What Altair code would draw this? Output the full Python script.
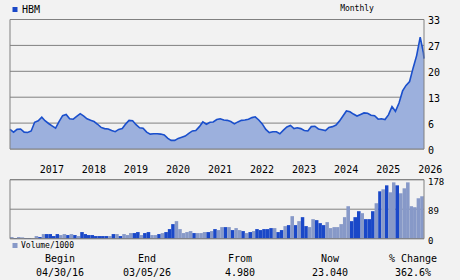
import altair as alt
import pandas as pd

# ---------------- data ----------------
ticker = "HBM"
period_label = "Monthly"
volume_label = "Volume/1000"

price = [4.98, 4.3, 5.0, 5.1, 4.3, 4.2, 4.6, 6.8, 7.2, 8.1,
         7.2, 6.5, 5.9, 5.3, 7.0, 8.5, 8.8, 7.7, 7.6, 8.3,
         9.0, 8.4, 7.7, 7.3, 7.0, 6.3, 5.5, 5.2, 5.1, 4.7,
         4.4, 5.0, 5.2, 6.4, 7.3, 7.2, 6.2, 5.4, 5.3, 4.3,
         3.8, 3.9, 3.9, 3.8, 3.6, 2.7, 2.2, 2.2, 2.7, 3.0,
         3.3, 4.0, 4.6, 4.7, 5.7, 6.9, 6.3, 6.8, 6.9, 7.5,
         7.7, 7.4, 7.3, 7.0, 6.4, 6.9, 7.3, 7.4, 7.6, 8.0,
         8.2, 7.4, 6.4, 5.0, 4.2, 4.4, 4.4, 3.9, 4.8, 5.6,
         6.0, 5.2, 5.4, 5.2, 4.7, 4.6, 5.7, 5.8, 5.1, 4.9,
         4.7, 5.5, 5.7, 6.1, 7.1, 8.4, 9.7, 9.5, 8.9, 8.4,
         8.8, 9.2, 9.1, 8.6, 8.5, 7.6, 7.7, 7.5, 8.7, 10.8,
         9.6, 11.7, 14.8, 16.2, 17.2, 20.6, 23.8, 28.5, 24.5, 23.04]

volume = [5, 2, 5, 4, 2, 2, 1, 8, 5, 14,
          14, 14, 8, 14, 11, 14, 11, 14, 11, 8,
          20, 14, 11, 11, 8, 8, 8, 8, 8, 14,
          14, 8, 14, 11, 17, 17, 20, 11, 17, 20,
          11, 11, 14, 17, 20, 29, 44, 53, 29, 17,
          20, 23, 17, 17, 17, 20, 20, 23, 29, 26,
          35, 35, 35, 26, 32, 26, 23, 17, 20, 23,
          29, 26, 29, 29, 32, 32, 20, 26, 38, 41,
          68, 41, 53, 65, 38, 35, 59, 56, 47, 41,
          50, 32, 35, 35, 44, 65, 98, 53, 65, 83,
          77, 59, 59, 83, 107, 143, 149, 161, 140, 170,
          161, 137, 152, 170, 98, 95, 122, 128, 128]

vol_kind = list("LDLLDDLLDL"
                "DDDDLLDLDL"
                "DDDDDDDDLD"
                "LDLLLDDLDD"
                "LLDLDDDLLL"
                "LLDLLLDLDL"
                "LDLDLLDLDL"
                "DDDDDLDDLD"
                "LDLDDLLDDD"
                "LLLLLLLDDD"
                "LDDDLDLDLL"
                "DLLLLLLLL")

start_date = "2016-04-30"
end_date = "2026-03-05"
dates = pd.date_range(start_date, periods=119, freq="ME").strftime("%Y-%m-%d").tolist() + [end_date]

price_ticks = [0, 6.6, 13.2, 19.8, 26.4, 33]
price_tick_labels = ["0", "6", "13", "20", "27", "33"]
vol_ticks = [0, 89, 178]
vol_tick_labels = ["0", "89", "178"]
year_ticks = ["2017-01-01", "2018-01-01", "2019-01-01", "2020-01-01", "2021-01-01",
              "2022-01-01", "2023-01-01", "2024-01-01", "2025-01-01", "2026-01-01"]
year_labels = ["2017", "2018", "2019", "2020", "2021", "2022", "2023", "2024", "2025", "2026"]

footer_heads = ["Begin", "End", "From", "Now", "% Change"]
footer_vals = ["04/30/16", "03/05/26", "4.980", "23.040", "362.6%"]

# ---------------- style ----------------
BG = "#f2f2f2"
GRID = "#808080"
LINE = "#1a4fcc"
FILL = "#9cb0dd"
DARK = "#1a48c8"
LIGHT = "#8799c8"
FONT = "DejaVu Sans Mono"

PX0, PX1 = 10, 424          # plot left/right
PY0, PY1 = 149, 19.5        # price panel bottom/top
VY0, VY1 = 238.7, 179.7     # volume panel bottom/top
FOOT_X = [60, 147, 240, 330, 413]

price_df = pd.DataFrame({"date": dates, "price": price})
vol_df = pd.DataFrame({"date": dates[:-1], "date2": dates[1:],
                       "vol": volume, "kind": vol_kind})
ptick_df = pd.DataFrame({"v": price_ticks, "lab": price_tick_labels})
vtick_df = pd.DataFrame({"v": vol_ticks, "lab": vol_tick_labels})
year_df = pd.DataFrame({"date": year_ticks, "lab": year_labels})
one = pd.DataFrame({"a": [0]})

x_scale = alt.Scale(domain=[start_date, end_date], range=[PX0, PX1], nice=False)
y_price_scale = alt.Scale(domain=[0, 33], range=[PY0, PY1], nice=False)
y_vol_scale = alt.Scale(domain=[0, 178], range=[VY0, VY1], nice=False)

# ---------------- price panel ----------------
area = alt.Chart(price_df).mark_area(color=FILL, opacity=1).encode(
    x=alt.X("date:T", scale=x_scale, axis=None),
    y=alt.Y("price:Q", scale=y_price_scale, axis=None),
)
line = alt.Chart(price_df).mark_line(color=LINE, strokeWidth=1.6).encode(
    x=alt.X("date:T", scale=x_scale, axis=None),
    y=alt.Y("price:Q", scale=y_price_scale, axis=None),
)
pgrid = alt.Chart(ptick_df).mark_rule(color=GRID, strokeWidth=1).encode(
    x=alt.value(PX0), x2=alt.value(PX1),
    y=alt.Y("v:Q", scale=y_price_scale, axis=None),
)
plabels = alt.Chart(ptick_df).mark_text(
    font=FONT, fontSize=10, align="left", baseline="middle", dy=1.5, color="#000"
).encode(
    x=alt.value(PX1 + 4),
    y=alt.Y("v:Q", scale=y_price_scale, axis=None),
    text="lab:N",
)
xlabels = alt.Chart(year_df).mark_text(
    font=FONT, fontSize=10, align="left", baseline="middle", dx=1.5, color="#000"
).encode(
    x=alt.X("date:T", scale=x_scale, axis=None),
    y=alt.value(170),
    text="lab:N",
)
price_layer = alt.layer(pgrid, area, line, plabels, xlabels)

# ---------------- volume panel ----------------
bars = alt.Chart(vol_df).mark_bar(opacity=1, strokeWidth=0).encode(
    x=alt.X("date:T", scale=x_scale, axis=None),
    x2="date2:T",
    y=alt.Y("vol:Q", scale=y_vol_scale, axis=None, stack=None),
    y2=alt.datum(0),
    color=alt.Color("kind:N", scale=alt.Scale(domain=["D", "L"], range=[DARK, LIGHT]), legend=None),
)
vgrid = alt.Chart(vtick_df).mark_rule(color=GRID, strokeWidth=1).encode(
    x=alt.value(PX0), x2=alt.value(PX1),
    y=alt.Y("v:Q", scale=y_vol_scale, axis=None),
)
vlabels = alt.Chart(vtick_df).mark_text(
    font=FONT, fontSize=9, align="left", baseline="middle", dy=2, color="#000"
).encode(
    x=alt.value(PX1 + 4),
    y=alt.Y("v:Q", scale=y_vol_scale, axis=None),
    text="lab:N",
)
vol_layer = alt.layer(vgrid, bars, vlabels)

# ---------------- frames & texts ----------------
frame_price = alt.Chart(one).mark_rect(fill=None, stroke=GRID, strokeWidth=1).encode(
    x=alt.value(PX0), x2=alt.value(PX1), y=alt.value(PY1), y2=alt.value(PY0))
frame_vol = alt.Chart(one).mark_rect(fill=None, stroke=GRID, strokeWidth=1).encode(
    x=alt.value(PX0), x2=alt.value(PX1), y=alt.value(VY1), y2=alt.value(VY0))


def txt(s, x, y, size, align="left"):
    return alt.Chart(pd.DataFrame({"t": [s]})).mark_text(
        font=FONT, fontSize=size, align=align, baseline="middle", color="#000"
    ).encode(x=alt.value(x), y=alt.value(y), text="t:N")


def sq(x, y, color):
    return alt.Chart(one).mark_square(size=25, color=color, opacity=1).encode(
        x=alt.value(x), y=alt.value(y))


texts = [
    sq(15, 9.5, DARK), txt(ticker, 22, 9.5, 10),
    txt(period_label, 357, 9, 8, "center"),
    sq(15, 245.5, LIGHT), txt(volume_label, 21, 245.5, 8),
]
for fx, h, v in zip(FOOT_X, footer_heads, footer_vals):
    texts.append(txt(h, fx, 259, 10, "center"))
    texts.append(txt(v, fx, 273, 10, "center"))

chart = alt.layer(price_layer, vol_layer, frame_price, frame_vol, *texts).resolve_scale(
    y="independent"
).properties(
    width=460, height=280, padding=0,
    autosize=alt.AutoSizeParams(type="none"),
    background=BG,
).configure_view(stroke=None)

chart.save("out.html", embed_options={"renderer": "svg", "actions": False})
